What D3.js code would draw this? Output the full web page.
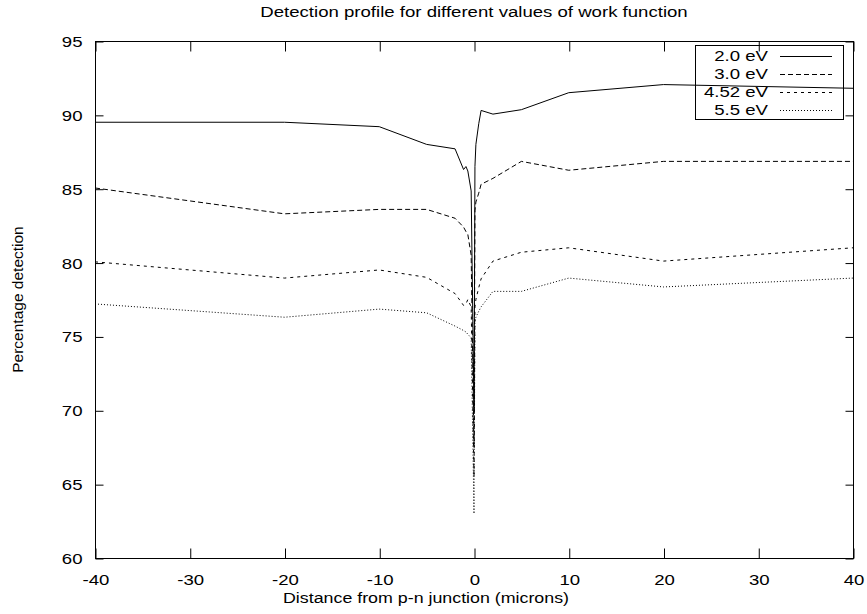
<!DOCTYPE html>
<html>
<head>
<meta charset="utf-8">
<script src="https://cdn.jsdelivr.net/npm/d3@7"></script>
<style>
  html, body { margin: 0; padding: 0; background: #fff; }
  svg { display: block; }
  text { font-family: "Liberation Sans", Arial, Helvetica, sans-serif; fill: #000; }
</style>
</head>
<body>
<svg id="chart" width="867" height="614"></svg>
<script>
// ---- data ----
const title = "Detection profile for different values of work function";
const xLabel = "Distance from p-n junction (microns)";
const yLabel = "Percentage detection";

const xValues = [-40, -20, -10, -5, -2, -1.1, -0.85, -0.65, -0.3, 0, 0.1, 0.2, 0.5, 0.75, 2, 5, 10, 20, 40];

const seriesNames = ["2.0 eV", "3.0 eV", "4.52 eV", "5.5 eV"];
const wf20 = [89.5, 89.5, 89.2, 88.0, 87.7, 86.3, 86.5, 86.2, 84.85, 70.0, 86.5, 88.0, 89.4, 90.3, 90.05, 90.35, 91.5, 92.05, 91.8];
const wf30 = [85.05, 83.3, 83.6, 83.6, 83.0, 82.4, 82.1, 81.9, 80.5, 67.5, 83.5, 84.1, 84.7, 85.3, 85.7, 86.85, 86.25, 86.85, 86.85];
const wf452 = [80.05, 78.95, 79.5, 79.0, 77.9, 77.1, 77.2, 77.5, 77.0, 65.5, 77.0, 77.5, 78.3, 78.9, 80.1, 80.7, 81.0, 80.1, 81.0];
const wf55 = [77.2, 76.3, 76.85, 76.6, 75.7, 75.4, 75.3, 75.15, 74.9, 63.0, 76.0, 76.3, 76.7, 77.0, 78.05, 78.05, 78.95, 78.35, 78.95];

const xTicks = [-40, -30, -20, -10, 0, 10, 20, 30, 40];
const yTicks = [60, 65, 70, 75, 80, 85, 90, 95];

// ---- layout ----
const svg = d3.select("#chart");
const L = 95, R = 853, T = 41, B = 558;
const FS = 15.5, SX = 1.2;   // font size and horizontal text stretch
const x = d3.scaleLinear().domain([-40, 40]).range([L, R]);
const y = d3.scaleLinear().domain([60, 95]).range([B, T]);

const seriesValues = [wf20, wf30, wf452, wf55];
const dashes = [null, "5,3", "3,4", "1,2"];

// frame
svg.append("rect")
  .attr("x", L + 0.5).attr("y", T + 0.5)
  .attr("width", R - L).attr("height", B - T)
  .attr("fill", "none").attr("stroke", "#000").attr("stroke-width", 1);

// axes with inward ticks (mirrored)
const xTL = 10, yTL = 8;
const fmt = d => String(d);
const gx = svg.append("g").attr("transform", `translate(0.5,${B + 0.5})`)
  .call(d3.axisBottom(x).tickValues(xTicks).tickSizeInner(-xTL).tickSizeOuter(0).tickPadding(xTL + 6).tickFormat(fmt));
const gxTop = svg.append("g").attr("transform", `translate(0.5,${T + 0.5})`)
  .call(d3.axisTop(x).tickValues(xTicks).tickSizeInner(-xTL).tickSizeOuter(0).tickFormat(""));
const gy = svg.append("g").attr("transform", `translate(${L + 0.5},0.5)`)
  .call(d3.axisLeft(y).tickValues(yTicks).tickSizeInner(-yTL).tickSizeOuter(0).tickPadding(yTL + 5).tickFormat(fmt));
const gyR = svg.append("g").attr("transform", `translate(${R + 0.5},0.5)`)
  .call(d3.axisRight(y).tickValues(yTicks).tickSizeInner(-yTL).tickSizeOuter(0).tickFormat(""));

[gx, gxTop, gy, gyR].forEach(g => {
  g.select(".domain").remove();
  g.selectAll("line").attr("stroke", "#000");
  g.selectAll("text").attr("font-size", FS).attr("font-family", '"Liberation Sans", Arial, sans-serif');
});
gx.selectAll("text").attr("dy", "0.71em").attr("transform", `scale(${SX},1)`);
gy.selectAll("text").attr("x", -13 / SX).attr("transform", `scale(${SX},1)`);

// lines
const line = d3.line().x(d => x(d[0])).y(d => y(d[1]));
seriesValues.forEach((vals, i) => {
  const pts = xValues.map((xv, j) => [xv, vals[j]]);
  svg.append("path")
    .datum(pts)
    .attr("d", line)
    .attr("fill", "none")
    .attr("stroke", "#000")
    .attr("stroke-width", 1)
    .attr("stroke-dasharray", dashes[i]);
});

// legend
const lg = svg.append("g");
lg.append("rect")
  .attr("x", 695.5).attr("y", 45.5).attr("width", 148).attr("height", 74)
  .attr("fill", "none").attr("stroke", "#000").attr("stroke-width", 1);
seriesNames.forEach((name, i) => {
  const cy = 56 + i * 18;
  lg.append("text")
    .attr("transform", `translate(768,${cy}) scale(${SX},1)`)
    .attr("dy", "0.35em")
    .attr("text-anchor", "end").attr("font-size", FS)
    .text(name);
  lg.append("line")
    .attr("x1", 780).attr("x2", 832).attr("y1", cy + 0.5).attr("y2", cy + 0.5)
    .attr("stroke", "#000").attr("stroke-width", 1)
    .attr("stroke-dasharray", dashes[i]);
});

// titles
svg.append("text")
  .attr("transform", `translate(${(L + R) / 2},17) scale(${SX},1)`)
  .attr("text-anchor", "middle").attr("font-size", FS)
  .text(title);
svg.append("text")
  .attr("transform", `translate(426,603) scale(1.15,1)`)
  .attr("text-anchor", "middle").attr("font-size", FS)
  .text(xLabel);
svg.append("text")
  .attr("transform", `translate(23,${(T + B) / 2}) rotate(-90)`)
  .attr("text-anchor", "middle").attr("font-size", FS)
  .text(yLabel);
</script>
</body>
</html>
